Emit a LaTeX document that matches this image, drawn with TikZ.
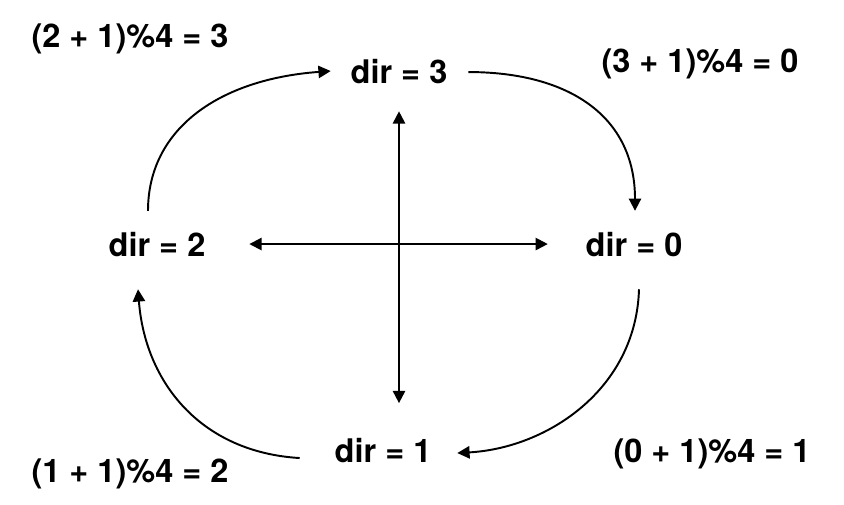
\documentclass[tikz,border=0pt]{standalone}
\usepackage{fontspec}
\setmainfont{TeX Gyre Heros}
\usetikzlibrary{arrows.meta}

\begin{document}
\begin{tikzpicture}[x=0.02cm, y=-0.02cm, >={Triangle[length=7pt,width=7pt]}, line width=1.1pt,
    dirlabel/.style={inner sep=0pt, anchor=base, font=\fontsize{18.5}{22}\selectfont\bfseries},
    modlabel/.style={inner sep=0pt, anchor=base, font=\fontsize{18.5}{22}\selectfont\bfseries}]
    \useasboundingbox (0,0) rectangle (844,504);

    % The four directions
    \node[dirlabel] (dir3) at (399,83)  {dir = 3};
    \node[dirlabel] (dir0) at (634,256) {dir = 0};
    \node[dirlabel] (dir2) at (157,256) {dir = 2};
    \node[dirlabel] (dir1) at (383,462) {dir = 1};

    % Turning rule next to each step
    \node[modlabel] (m3) at (130,47)  {(2 + 1)\%4 = 3};
    \node[modlabel] (m0) at (700,72)  {(3 + 1)\%4 = 0};
    \node[modlabel] (m1) at (712,462) {(0 + 1)\%4 = 1};
    \node[modlabel] (m2) at (130,482) {(1 + 1)\%4 = 2};

    % Cross in the middle
    \draw[<->, shorten <=15.4pt, shorten >=26.7pt] (dir3) -- (dir3 |- dir1);
    \draw[<->, shorten <=24.5pt, shorten >=21pt] (dir2) -- (dir0);

    % Steps 2 -> 3 -> 0 -> 1 -> 2
    \draw[->] ([shift={(-9,-20)}]dir2.north) .. controls +(0,-83) and +(-110,8) .. ([shift={(-19,0)}]dir3.west);
    \draw[->] ([shift={(20,1)}]dir3.east) .. controls +(100,0) and +(0,-95) .. ([shift={(1,-20)}]dir0.north);
    \draw[->] ([shift={(5,32)}]dir0.south) .. controls +(-3,100) and +(90,-5) .. ([shift={(25,3)}]dir1.east);
    \draw[->] ([shift={(-34,8)}]dir1.west) .. controls +(-100,-6) and +(7,92) .. ([shift={(-19,32)}]dir2.south);
\end{tikzpicture}
\end{document}
